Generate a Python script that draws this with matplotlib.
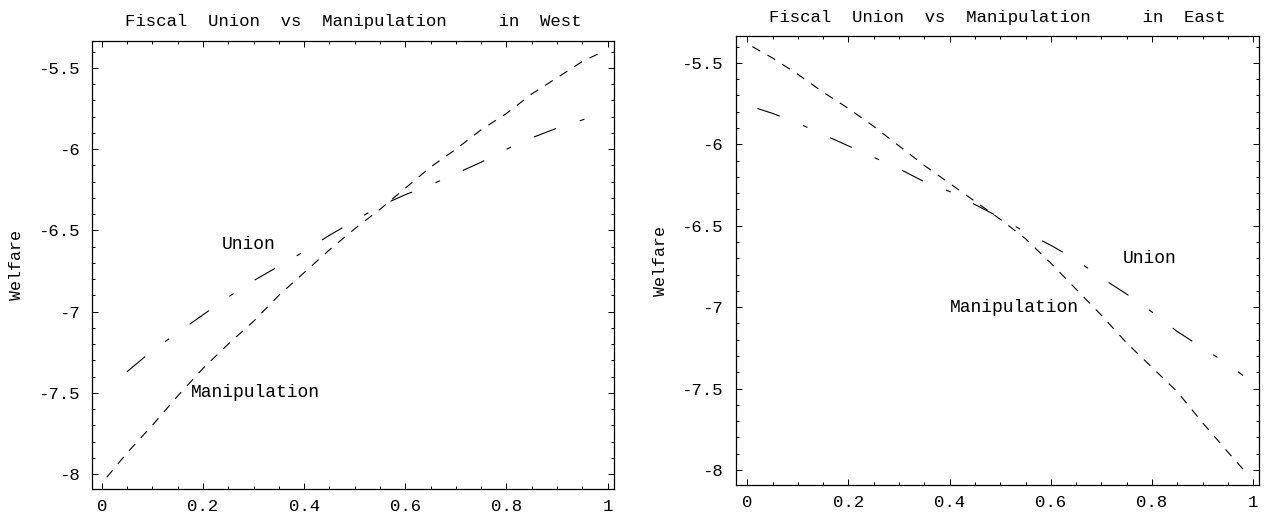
import matplotlib
matplotlib.use("Agg")
import matplotlib.pyplot as plt
from matplotlib.ticker import MultipleLocator

plt.rcParams['font.family'] = ['Liberation Mono', 'DejaVu Sans Mono']
plt.rcParams['axes.unicode_minus'] = False
plt.rcParams['lines.scale_dashes'] = False

# ---- data ----
west_manip_x = [0.01, 0.05, 0.10, 0.15, 0.20, 0.25, 0.30, 0.35, 0.40, 0.45, 0.50,
                0.55, 0.60, 0.65, 0.70, 0.75, 0.80, 0.85, 0.90, 0.95, 0.99]
west_manip_y = [-8.02, -7.87, -7.70, -7.52, -7.35, -7.20, -7.06, -6.90, -6.76, -6.62, -6.49,
                -6.37, -6.24, -6.11, -6.00, -5.88, -5.78, -5.66, -5.56, -5.46, -5.40]
west_union_x = [0.05, 0.10, 0.15, 0.20, 0.25, 0.30, 0.35, 0.40, 0.45, 0.50,
                0.55, 0.60, 0.65, 0.70, 0.75, 0.80, 0.85, 0.90, 0.95, 0.99]
west_union_y = [-7.37, -7.24, -7.13, -7.02, -6.91, -6.81, -6.72, -6.63, -6.53, -6.44,
                -6.35, -6.28, -6.22, -6.15, -6.08, -6.00, -5.93, -5.87, -5.82, -5.77]

east_manip_x = [0.01, 0.05, 0.10, 0.15, 0.20, 0.25, 0.30, 0.35, 0.40, 0.45, 0.50,
                0.55, 0.60, 0.65, 0.70, 0.75, 0.80, 0.85, 0.90, 0.95, 0.99]
east_manip_y = [-5.40, -5.47, -5.57, -5.68, -5.78, -5.89, -6.01, -6.13, -6.24, -6.35, -6.46,
                -6.58, -6.73, -6.89, -7.05, -7.22, -7.37, -7.52, -7.71, -7.89, -8.03]
east_union_x = [0.02, 0.05, 0.10, 0.15, 0.20, 0.25, 0.30, 0.35, 0.40, 0.45, 0.50,
                0.55, 0.60, 0.65, 0.70, 0.75, 0.80, 0.85, 0.90, 0.95, 0.98]
east_union_y = [-5.78, -5.81, -5.87, -5.94, -6.01, -6.08, -6.15, -6.23, -6.29, -6.37, -6.45,
                -6.54, -6.62, -6.71, -6.82, -6.92, -7.03, -7.15, -7.25, -7.35, -7.42]

x_ticks = [0, 0.2, 0.4, 0.6, 0.8, 1]
x_labels = ["0", "0.2", "0.4", "0.6", "0.8", "1"]
y_ticks = [-8, -7.5, -7, -6.5, -6, -5.5]
y_labels = ["-8", "-7.5", "-7", "-6.5", "-6", "-5.5"]

titles = ["Fiscal  Union  vs  Manipulation     in  West",
          "Fiscal  Union  vs  Manipulation     in  East"]
ylabel = "Welfare"

# label positions (data coords)
west_labels = [("Union", 0.29, -6.586), ("Manipulation", 0.304, -7.50)]
east_labels = [("Union", 0.796, -6.70), ("Manipulation", 0.527, -7.00)]

W, H = 1271, 514
fig = plt.figure(figsize=(W / 100, H / 100), dpi=100)

def px_axes(l, t, r, b):
    return [l / W, 1 - b / H, (r - l) / W, (b - t) / H]

ax1 = fig.add_axes(px_axes(92.3, 40.7, 614, 489))
ax2 = fig.add_axes(px_axes(735.6, 36, 1259.3, 485))

manip_dash = (0, (6.5, 6.0))
union_dash = (0, (17, 18, 3.6, 18))

def style(ax, title, xlim, ylim, mx, my, ux, uy, labels):
    ax.plot(mx, my, color='black', lw=0.8, linestyle=manip_dash)
    ax.plot(ux, uy, color='black', lw=0.8, linestyle=union_dash)
    ax.set_xlim(*xlim)
    ax.set_ylim(*ylim)
    ax.set_xticks(x_ticks)
    ax.set_xticklabels(x_labels)
    ax.set_yticks(y_ticks)
    ax.set_yticklabels(y_labels)
    ax.xaxis.set_minor_locator(MultipleLocator(0.05))
    ax.yaxis.set_minor_locator(MultipleLocator(0.1))
    ax.tick_params(which='both', direction='in', top=True, right=True,
                   width=0.7, color='black', labelsize=12.5)
    ax.tick_params(which='major', length=4.5)
    ax.tick_params(which='minor', length=2.5)
    ax.tick_params(axis='y', which='major', pad=9)
    ax.tick_params(axis='x', which='major', pad=7)
    for s in ax.spines.values():
        s.set_linewidth(0.9)
    ax.text(0.5, 1.042, title, transform=ax.transAxes, ha='center', va='center',
            fontsize=12.5)
    ax.set_ylabel(ylabel, fontsize=12, labelpad=10)
    for txt, x, y in labels:
        ax.text(x, y, txt, ha='center', va='center', fontsize=13)

style(ax1, titles[0], (-0.0186, 1.0125), (-8.092, -5.332),
      west_manip_x, west_manip_y, west_union_x, west_union_y, west_labels)
style(ax2, titles[1], (-0.023, 1.012), (-8.092, -5.335),
      east_manip_x, east_manip_y, east_union_x, east_union_y, east_labels)

fig.savefig("out.png", dpi=100)
